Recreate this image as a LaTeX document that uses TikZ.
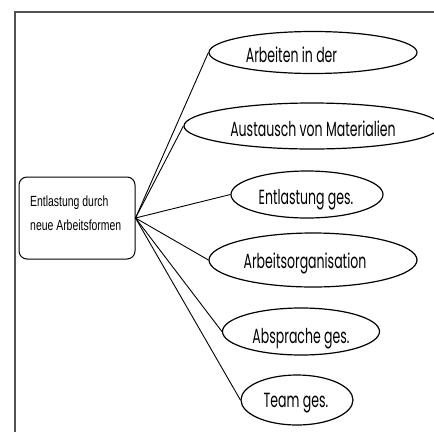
\documentclass[tikz,border=0pt]{standalone}
\usepackage{fontspec}
\usetikzlibrary{shapes.geometric}
\newfontfamily\ellfont[FakeStretch=0.61]{Poppins}
\newfontfamily\boxfont[FakeStretch=0.71]{Liberation Sans}
\tikzset{
  frameline/.style={draw=black!68, line width=2pt},
  mainbox/.style={draw=black, line width=1pt, rounded corners=8pt, minimum width=116pt, minimum height=82pt, inner sep=0pt},
  boxtext/.style={font=\boxfont\fontsize{14.7}{17}\selectfont, inner sep=0pt, anchor=base west},
  ell/.style={ellipse, draw=black, line width=1.2pt, inner sep=0pt},
  elltext/.style={font=\ellfont\fontsize{20.5}{24}\selectfont, inner sep=0pt, anchor=base},
  conn/.style={draw=black, line width=0.9pt},
}
\begin{document}
\begin{tikzpicture}[x=1pt,y=-1pt]
\useasboundingbox (0,0) rectangle (434,432);
\fill[white] (0,0) rectangle (434,432);
\draw[frameline] (15,432) -- (15,12) -- (434,12);

\node[mainbox] (c) at (77,218) {};
\node[boxtext] (ct1) at (30,206) {Entlastung durch};
\node[boxtext] (ct2) at (30,230) {neue Arbeitsformen};

\node[ell, minimum width=208pt, minimum height=42pt] (e1) at (313,52.5) {};
\node[ell, minimum width=256pt, minimum height=46pt] (e2) at (312,126) {};
\node[ell, minimum width=152pt, minimum height=47pt] (e3) at (307,194.5) {};
\node[ell, minimum width=208pt, minimum height=54pt] (e4) at (313,260) {};
\node[ell, minimum width=157pt, minimum height=47pt] (e5) at (301,331.5) {};
\node[ell, minimum width=112pt, minimum height=50pt] (e6) at (297,400) {};

\node[elltext] (t1) at (291.5,62) {Arbeiten in der};
\node[elltext] (t2) at (313,136) {Austausch von Materialien};
\node[elltext] (t3) at (306,204) {Entlastung ges.};
\node[elltext] (t4) at (305,268) {Arbeitsorganisation};
\node[elltext] (t5) at (301,343) {Absprache ges.};
\node[elltext] (t6) at (296,407) {Team ges.};

\foreach \e in {e1,e2,e3,e4,e5,e6}
  \draw[conn] (c.east) -- (\e.west);
\end{tikzpicture}
\end{document}
